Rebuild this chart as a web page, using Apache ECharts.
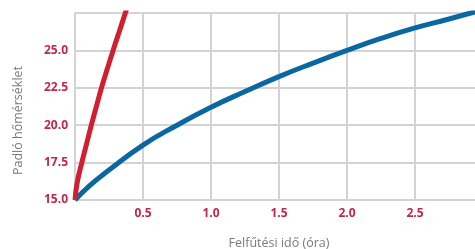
<!DOCTYPE html>
<html>
<head>
<meta charset="utf-8">
<script src="https://cdn.jsdelivr.net/npm/echarts@6/dist/echarts.min.js"></script>
<style>
  html, body { margin: 0; padding: 0; background: #fff; }
  #chart { width: 475px; height: 249px; }
</style>
</head>
<body>
<div id="chart"></div>
<script>
// padlo homerseklet - felfutesi ido
var redCurve = [[0, 15], [0.015, 16.1], [0.05, 17.5], [0.085, 18.75], [0.12, 20], [0.157, 21.25], [0.195, 22.5], [0.237, 23.75], [0.28, 25], [0.325, 26.25], [0.37, 27.5], [0.38, 27.8]];
var blueCurve = [[0, 15], [0.1, 15.9], [0.25, 17.0], [0.5, 18.67], [0.75, 20.0], [1.0, 21.2], [1.25, 22.25], [1.5, 23.25], [1.75, 24.15], [2.0, 25.0], [2.25, 25.8], [2.5, 26.5], [2.75, 27.1], [2.95, 27.6]];

var xTicks = { min: 0, max: 3, step: 0.5 };
var yTicks = { min: 15, max: 27.5, step: 2.5 };

var labelColor = '#c1264b';
var gridColor = '#d3d3d3';

var chart = echarts.init(document.getElementById('chart'));

var opt = {
    animation: false,
    grid: {
        left: 75,
        right: -8,
        top: 13,
        bottom: 49,
        outerBoundsMode: 'none'
    },
    xAxis: {
        type: 'value',
        min: xTicks.min,
        max: xTicks.max,
        interval: xTicks.step,
        name: 'Felfűtési idő (óra)',
        nameLocation: 'middle',
        nameGap: 37,
        nameTextStyle: {
            color: '#7a7a7a',
            fontSize: 12.5,
            fontFamily: 'Open Sans'
        },
        axisLine: { lineStyle: { color: gridColor, width: 2 } },
        axisTick: { show: false },
        splitLine: { lineStyle: { color: gridColor, width: 2 } },
        axisLabel: {
            color: labelColor,
            fontWeight: 'bold',
            fontSize: 12,
            fontFamily: 'Open Sans',
            margin: 8,
            showMinLabel: false,
            showMaxLabel: false,
            formatter: function (v) { return v.toFixed(1); }
        }
    },
    yAxis: {
        type: 'value',
        min: yTicks.min,
        max: yTicks.max,
        interval: yTicks.step,
        name: 'Padló hőmérséklet',
        nameLocation: 'middle',
        nameGap: 50,
        nameTextStyle: {
            color: '#7a7a7a',
            fontSize: 12.5,
            fontFamily: 'Open Sans',
            padding: [0, 28, 0, 0]
        },
        axisLine: { show: true, lineStyle: { color: gridColor, width: 2 } },
        axisTick: { show: false },
        splitLine: { lineStyle: { color: gridColor, width: 2 } },
        axisLabel: {
            color: labelColor,
            fontWeight: 'bold',
            fontSize: 12,
            fontFamily: 'Open Sans',
            margin: 7,
            showMaxLabel: false,
            formatter: function (v) { return v.toFixed(1); }
        }
    },
    series: [
        {
            type: 'line',
            data: blueCurve,
            smooth: true,
            showSymbol: false,
            lineStyle: { color: '#0a67a0', width: 5 }
        },
        {
            type: 'line',
            data: redCurve,
            smooth: true,
            showSymbol: false,
            clip: true,
            lineStyle: { color: '#d01f2f', width: 5 }
        }
    ]
};
chart.setOption(opt);
</script>
</body>
</html>
